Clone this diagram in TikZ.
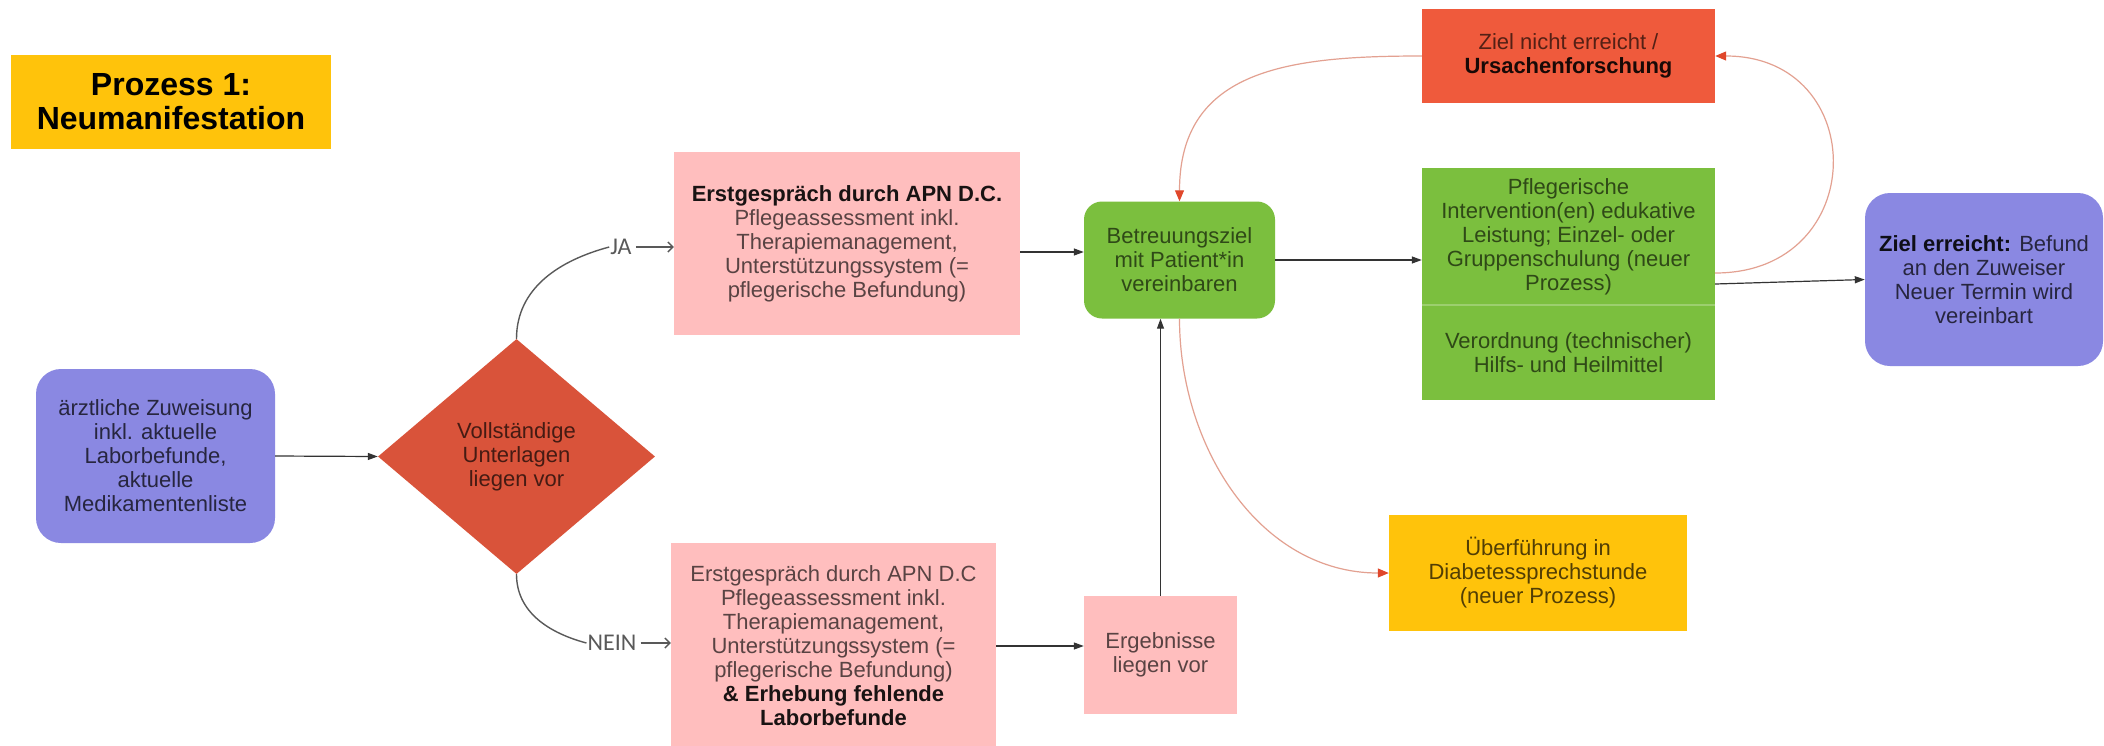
\documentclass[tikz,border=0pt]{standalone}
\usepackage{fontspec}
\setmainfont{Liberation Sans}
\newfontfamily\carl{Carlito}
\usetikzlibrary{shapes.geometric,arrows.meta}
\definecolor{yel}{HTML}{FFC30B}
\definecolor{purp}{HTML}{8A88E2}
\definecolor{dred}{HTML}{D9533A}
\definecolor{rbox}{HTML}{EF5A3C}
\definecolor{pnk}{HTML}{FFBEBE}
\definecolor{grn}{HTML}{7BBF3E}
\definecolor{lnk}{HTML}{333333}
\definecolor{rline}{HTML}{E3A191}
\definecolor{rtip}{HTML}{E0472B}
\tikzset{
  box/.style={inner sep=2pt, align=center, font=\fontsize{22}{24}\selectfont},
  arr/.style={draw=lnk, line width=1.2pt, -{Triangle[length=10pt,width=7pt]}},
  rarr/.style={draw=rline, line width=1.2pt, -{Triangle[length=11pt,width=9pt,color=rtip]}},
  jarr/.style={draw=black!65, line width=1.4pt},
  lbl/.style={font=\carl\fontsize{24}{26}\selectfont, text=black!65, inner sep=1pt},
}
\begin{document}
\begin{tikzpicture}[x=1pt,y=1pt]
\useasboundingbox (0,0) rectangle (2104,-745);
\fill[white] (0,0) rectangle (2104,-745);

\node[box, fill=yel, minimum width=320pt, minimum height=94pt, font=\fontsize{32}{34}\selectfont\bfseries, text=black] (title) at (171,-102) {Prozess 1:\\Neumanifestation};

\node[box, fill=purp, rounded corners=25pt, minimum width=239pt, minimum height=174pt, text=black!72!purp] (start) at (155.5,-456) {ärztliche Zuweisung\\inkl. aktuelle\\Laborbefunde,\\aktuelle\\Medikamentenliste};

\node[diamond, box, fill=dred, minimum width=277pt, minimum height=235pt, text=black!68!dred] (dia) at (516.5,-456.5) {Vollständige\\Unterlagen\\liegen vor};

\node[box, fill=pnk, minimum width=346pt, minimum height=183pt, text=black!65!pnk] (pinkTop) at (847,-243.5) {\textcolor{black!90!pnk}{\bfseries Erstgespräch durch APN D.C.}\\Pflegeassessment inkl.\\Therapiemanagement,\\Unterstützungssystem (=\\pflegerische Befundung)};

\node[box, fill=pnk, minimum width=325pt, minimum height=206pt, text=black!65!pnk] (pinkBot) at (833.5,-646) {Erstgespräch durch APN D.C\\Pflegeassessment inkl.\\Therapiemanagement,\\Unterstützungssystem (=\\pflegerische Befundung)\\\textcolor{black!90!pnk}{\bfseries \& Erhebung fehlende}\\\textcolor{black!90!pnk}{\bfseries Laborbefunde}};

\node[box, fill=grn, rounded corners=18pt, minimum width=191pt, minimum height=117pt, text=black!62!grn] (green1) at (1179.5,-260) {Betreuungsziel\\mit Patient*in\\vereinbaren};

\node[box, fill=pnk, minimum width=153pt, minimum height=118pt, text=black!65!pnk] (erg) at (1160.5,-655) {Ergebnisse\\liegen vor};

\node[box, fill=rbox, minimum width=293pt, minimum height=94pt, text=black!65!rbox] (redBox) at (1568.5,-56) {Ziel nicht erreicht /\\\textcolor{black!90!rbox}{\bfseries Ursachenforschung}};

\node[box, fill=grn, minimum width=293pt, minimum height=137pt, text=black!62!grn] (gInt) at (1568.5,-236.5) {Pflegerische\\Intervention(en) edukative\\Leistung; Einzel- oder\\Gruppenschulung (neuer\\Prozess)};
\node[box, fill=grn, minimum width=293pt, minimum height=95pt, text=black!62!grn] (gVer) at (1568.5,-352.5) {Verordnung (technischer)\\Hilfs- und Heilmittel};
\draw[grn!75!white, line width=1.5pt] (gInt.south west) -- (gInt.south east);

\node[box, fill=purp, rounded corners=25pt, minimum width=238pt, minimum height=173pt, text=black!72!purp] (endBox) at (1984,-279.5) {\textcolor{black!90!purp}{\bfseries Ziel erreicht:} Befund\\an den Zuweiser\\Neuer Termin wird\\vereinbart};

\node[box, fill=yel, minimum width=298pt, minimum height=116pt, text=black!68!yel] (yellow) at (1538,-573) {Überführung in\\Diabetessprechstunde\\(neuer Prozess)};

\node[lbl] (ja) at (621,-247) {JA};
\node[lbl] (nein) at (612,-643) {NEIN};

% connectors
\draw[arr] (start.east) -- (dia.west);
\draw[jarr] (dia.north) to[out=90,in=195] (ja.west);
\draw[jarr,-{Straight Barb[length=5pt,width=10pt]}, shorten <=3pt] (ja.east) -- (ja.east -| pinkTop.west);
\draw[jarr] (dia.south) to[out=-90,in=165] (nein.west);
\draw[jarr,-{Straight Barb[length=5pt,width=10pt]}, shorten <=3pt] (nein.east) -- (nein.east -| pinkBot.west);

\coordinate (p1) at ([yshift=-8.5pt]pinkTop.east);
\draw[arr] (p1) -- (p1 -| green1.west);
\draw[arr] (pinkBot.east) -- (pinkBot.east -| erg.west);
\draw[arr] (erg.north) -- (erg.north |- green1.south);
\draw[arr] (green1.east) -- (green1.east -| gInt.west);
\draw[arr] ([yshift=-47.5pt]gInt.east) -- (endBox.west);

\draw[rarr] ([yshift=-36.5pt]gInt.east) to[out=0,in=0,looseness=1.84] (redBox.east);
\draw[rarr] (redBox.west) to[out=180,in=90,looseness=1.2] (green1.north);
\draw[rarr] (green1.south) to[out=-90,in=180] (yellow.west);
\end{tikzpicture}
\end{document}
